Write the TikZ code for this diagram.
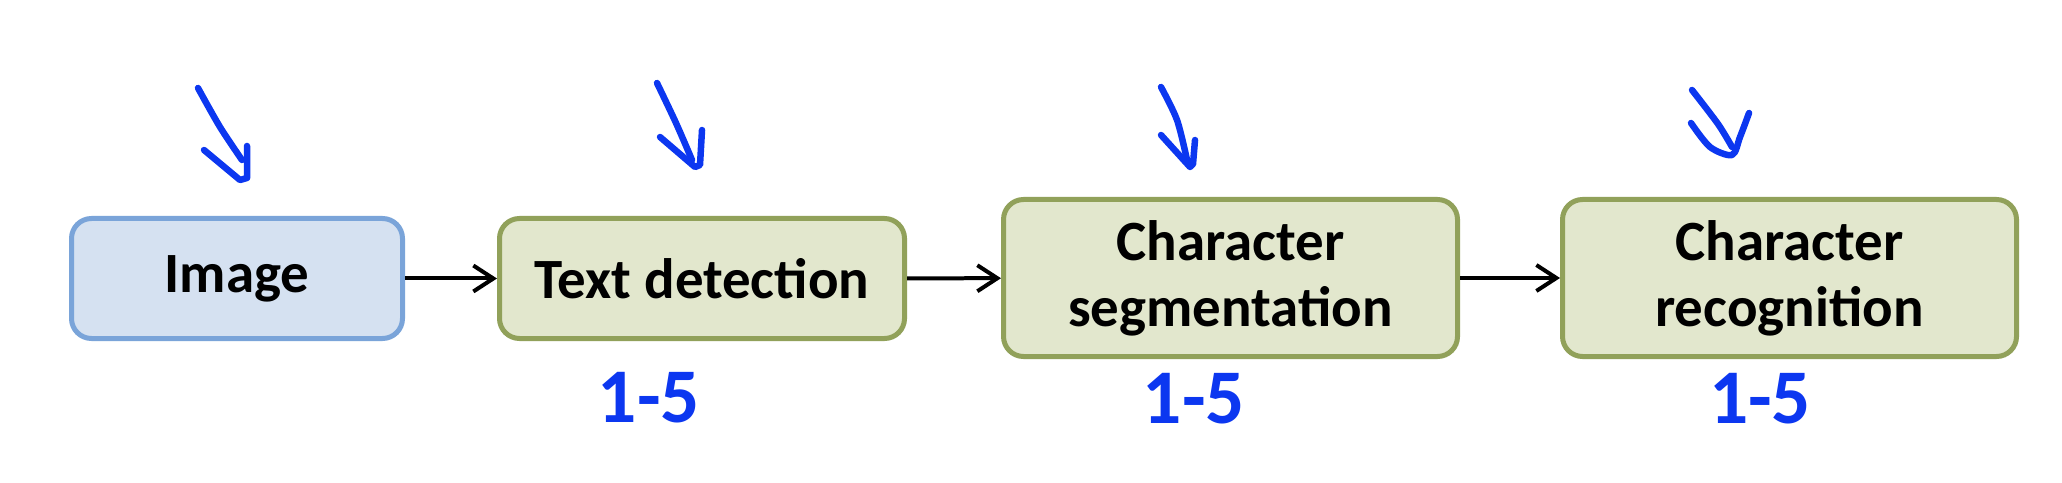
\documentclass[tikz,border=0pt]{standalone}
\usepackage{fontspec}
\setmainfont{Carlito}
\usepackage{tikz}
\usetikzlibrary{arrows.meta, positioning}
\definecolor{imgblue}{RGB}{213, 225, 241}
\definecolor{imgborder}{RGB}{122, 164, 217}
\definecolor{stagegreen}{RGB}{226, 231, 205}
\definecolor{stageborder}{RGB}{145, 161, 90}
\definecolor{inkblue}{RGB}{12, 55, 240}

\begin{document}
\begin{tikzpicture}[
  stagebox/.style={draw=stageborder, fill=stagegreen, line width=0.05cm, rounded corners=0.2cm, align=center, inner sep=0pt, font=\fontsize{16.2}{18.8}\selectfont\bfseries},
  imagebox/.style={stagebox, draw=imgborder, fill=imgblue},
  flow/.style={-{Straight Barb[length=0.2cm, width=0.26cm]}, line width=0.04cm, black},
  ink/.style={draw=inkblue, line width=0.065cm, line cap=round, line join=round},
  inklabel/.style={text=inkblue, inner sep=0pt, font=\fontsize{22}{22}\selectfont\bfseries}
]
  \useasboundingbox (0, 0) rectangle (20.62, 4.82);

  \node[imagebox, minimum width=3.31cm, minimum height=1.20cm] (img) at (2.37, 2.035) {Image};
  \node[stagebox, minimum width=4.05cm, minimum height=1.20cm] (det) at (7.02, 2.035) {Text detection};
  \node[stagebox, minimum width=4.54cm, minimum height=1.57cm] (seg) at (12.305, 2.04) {Character\\segmentation};
  \node[stagebox, minimum width=4.54cm, minimum height=1.57cm] (rec) at (17.895, 2.04) {Character\\recognition};

  \draw[flow] (img) -- (det);
  \draw[flow] (det) -- (seg);
  \draw[flow] (seg) -- (rec);

  \draw[ink] plot[smooth] coordinates {(1.98, 3.94) (2.20, 3.55) (2.42, 3.22)};
  \draw[ink] (2.04, 3.32) -- (2.40, 3.02) -- (2.47, 3.04) -- (2.47, 3.36);
  \draw[ink] plot[smooth] coordinates {(6.57, 3.99) (6.76, 3.59) (6.92, 3.22)};
  \draw[ink] (6.60, 3.45) -- (6.95, 3.15) -- (7.00, 3.17) -- (7.02, 3.52);
  \draw[ink] plot[smooth] coordinates {(11.61, 3.95) (11.77, 3.62) (11.87, 3.22)};
  \draw[ink] (11.61, 3.47) -- (11.90, 3.15) -- (11.93, 3.18) -- (11.95, 3.42);
  \draw[ink] plot[smooth] coordinates {(16.92, 3.92) (17.18, 3.58) (17.32, 3.35)};
  \draw[ink] plot[smooth] coordinates {(16.91, 3.59) (17.10, 3.35) (17.32, 3.27) (17.40, 3.45) (17.49, 3.69)};

  \node[inklabel] (detcost) at (6.49, 0.84) {1-5};
  \node[inklabel] (segcost) at (11.94, 0.83) {1-5};
  \node[inklabel] (reccost) at (17.60, 0.83) {1-5};
\end{tikzpicture}
\end{document}
